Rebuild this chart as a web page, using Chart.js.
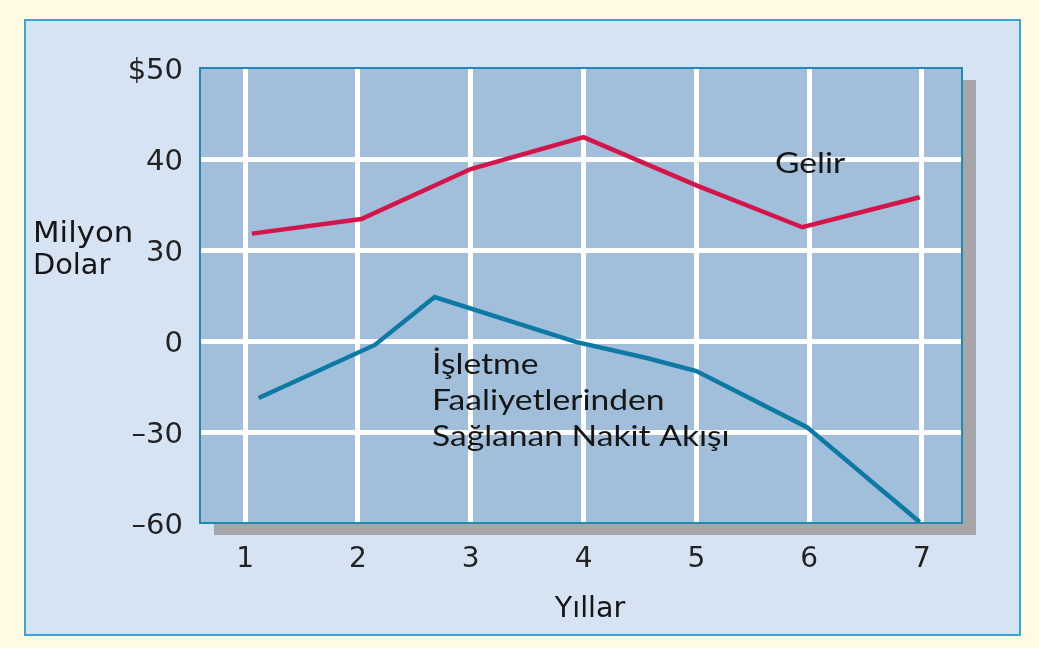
<!DOCTYPE html>
<html>
<head>
<meta charset="utf-8">
<script src="https://cdn.jsdelivr.net/npm/chart.js@4/dist/chart.umd.min.js"></script>
<style>
  html, body { margin: 0; padding: 0; background: #fffbe3; }
  canvas { display: block; }
</style>
</head>
<body>
<canvas id="c" width="1039" height="648"></canvas>
<script>
// Years on the horizontal axis
const years = [1, 2, 3, 4, 5, 6, 7];

// Vertical axis: broken scale, each tick sits one step apart
const yTickValues = [-60, -30, 0, 30, 40, 50];
const yTickLabels = ['–60', '–30', '0', '30', '40', '$50'];

// Gelir (revenue), million dollars
const gelirX = [1.06, 2.03, 3.0, 4.0, 5.0, 5.94, 6.98];
const gelir  = [31.8, 33.4, 38.9, 42.4, 37.1, 32.5, 35.8];

// İşletme faaliyetlerinden sağlanan nakit akışı, million dollars
const nakitX = [1.12, 2.15, 2.68, 3.93, 4.56, 5.0, 5.98, 6.98];
const nakit  = [-18.8, -1.3, 14.5, -0.3, -5.6, -9.9, -28.4, -59.7];

// Map a dollar value onto the evenly spaced tick positions of the broken axis
function toAxis(v) {
  for (let i = 0; i < yTickValues.length - 1; i++) {
    const a = yTickValues[i], b = yTickValues[i + 1];
    if (v <= b || i === yTickValues.length - 2) {
      return i + (v - a) / (b - a);
    }
  }
  return 0;
}

const toPoints = (xs, vs) => xs.map((x, i) => ({ x: x, y: toAxis(vs[i]) }));

const COLORS = {
  page: '#fffbe3',
  panel: '#d5e3f3',
  panelBorder: '#3aa3d7',
  plot: '#a1bfdb',
  plotBorder: '#2488b6',
  shadow: '#a6a6a8',
  text: '#161616',
  tick: '#222222',
  gelir: '#d4154a',
  nakit: '#0d79a5'
};

// Backdrop: page, framed panel, drop shadow and plot fill
const backdrop = {
  id: 'backdrop',
  beforeDraw(chart) {
    const { ctx, chartArea: a } = chart;
    ctx.save();
    ctx.fillStyle = COLORS.page;
    ctx.fillRect(0, 0, chart.width, chart.height);
    ctx.fillStyle = COLORS.panel;
    ctx.fillRect(25, 20, 995, 615);
    ctx.strokeStyle = COLORS.panelBorder;
    ctx.lineWidth = 2;
    ctx.strokeRect(25, 20, 995, 615);
    ctx.fillStyle = COLORS.shadow;
    ctx.fillRect(a.left + 14, a.top + 12, a.right - a.left, a.bottom - a.top);
    ctx.fillStyle = COLORS.plot;
    ctx.fillRect(a.left, a.top, a.right - a.left, a.bottom - a.top);
    ctx.restore();
  },
  beforeDatasetsDraw(chart) {
    const { ctx, chartArea: a } = chart;
    ctx.save();
    ctx.strokeStyle = COLORS.plotBorder;
    ctx.lineWidth = 2;
    ctx.strokeRect(a.left, a.top, a.right - a.left, a.bottom - a.top);
    ctx.restore();
  }
};

// Axis titles and series captions
const captions = {
  id: 'captions',
  afterDraw(chart) {
    const { ctx, chartArea: a } = chart;
    ctx.save();
    ctx.fillStyle = COLORS.text;
    ctx.textBaseline = 'alphabetic';

    // text drawn slightly widened, anchored at its left or centre
    const wide = (txt, x, y, sx, align) => {
      ctx.save();
      ctx.translate(x, y);
      ctx.scale(sx, 1);
      ctx.textAlign = align;
      ctx.fillText(txt, 0, 0);
      ctx.restore();
    };

    ctx.font = '28px "DejaVu Sans"';
    wide('Milyon', 33, 242, 1.1, 'left');
    wide('Dolar', 33, 274, 1.03, 'left');
    wide('Yıllar', (a.left + a.right) / 2 + 9, 617, 1.02, 'center');

    ctx.font = '28px Lato';
    wide('Gelir', 775, 173, 1.2, 'left');
    wide('İşletme', 432, 374, 1.2, 'left');
    wide('Faaliyetlerinden', 432, 410, 1.2, 'left');
    wide('Sağlanan Nakit Akışı', 432, 446, 1.2, 'left');
    ctx.restore();
  }
};

new Chart(document.getElementById('c'), {
  type: 'line',
  data: {
    datasets: [
      {
        label: 'Gelir',
        data: toPoints(gelirX, gelir),
        borderColor: COLORS.gelir,
        borderWidth: 4.5,
        pointRadius: 0,
        tension: 0,
        fill: false
      },
      {
        label: 'İşletme Faaliyetlerinden Sağlanan Nakit Akışı',
        data: toPoints(nakitX, nakit),
        borderColor: COLORS.nakit,
        borderWidth: 4.5,
        pointRadius: 0,
        tension: 0,
        fill: false
      }
    ]
  },
  options: {
    responsive: false,
    animation: false,
    events: [],
    layout: { padding: { left: 0, top: 68, right: 77, bottom: 0 } },
    plugins: { legend: { display: false }, tooltip: { enabled: false } },
    scales: {
      x: {
        type: 'linear',
        min: 0.6,
        max: 7.355,
        afterBuildTicks(scale) { scale.ticks = years.map(v => ({ value: v })); },
        afterFit(scale) { scale.height = 125; },
        ticks: {
          color: COLORS.tick,
          font: { family: '"DejaVu Sans"', size: 28 },
          padding: 20,
          maxRotation: 0,
          autoSkip: false,
          callback: v => String(v)
        },
        grid: { color: '#ffffff', lineWidth: 5, drawTicks: false },
        border: { display: false }
      },
      y: {
        type: 'linear',
        min: 0,
        max: yTickValues.length - 1,
        afterBuildTicks(scale) { scale.ticks = yTickLabels.map((_, i) => ({ value: i })); },
        afterFit(scale) { scale.width = 200; },
        ticks: {
          color: COLORS.tick,
          font: { family: '"DejaVu Sans"', size: 29 },
          padding: 17,
          labelOffset: 3,
          autoSkip: false,
          callback: (v) => yTickLabels[Math.round(v)]
        },
        grid: {
          color: ctx => (ctx.index === 0 || ctx.index === yTickLabels.length - 1) ? 'rgba(0,0,0,0)' : '#ffffff',
          lineWidth: 5,
          drawTicks: false
        },
        border: { display: false }
      }
    }
  },
  plugins: [backdrop, captions]
});
</script>
</body>
</html>
